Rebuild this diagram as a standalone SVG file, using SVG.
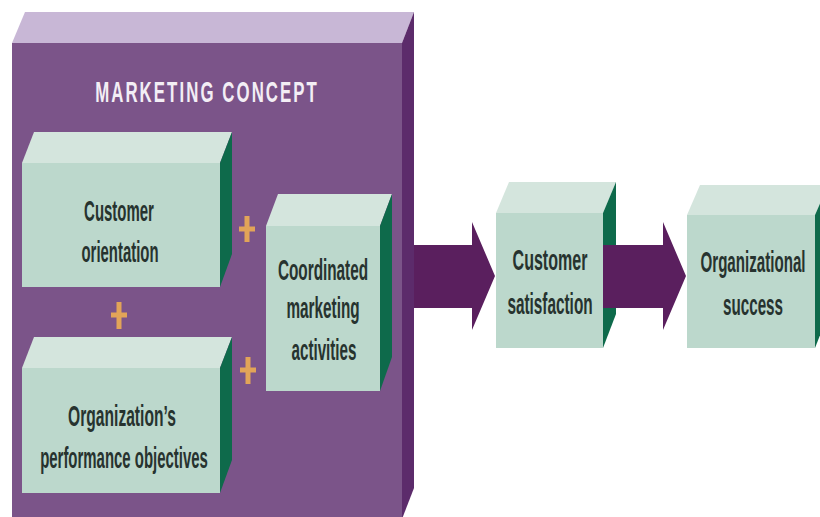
<svg xmlns="http://www.w3.org/2000/svg" width="820" height="517" viewBox="0 0 820 517">
<style>
.top{fill:#d4e5dd}
.front{fill:#bcd8cc}
.side{fill:#0e6a4b}
.lbl{font-family:"Liberation Sans",Arial,sans-serif;font-weight:bold;font-size:29px;fill:#27332f;text-anchor:middle}
.plus{stroke:#e2a458;stroke-width:5;fill:none}
.arrow{fill:#5a1f5e}
</style>
<rect width="820" height="517" fill="#ffffff"/>
<g id="marketing-concept">
<polygon points="12,43 402,43 414,12 25,12" fill="#c8b7d6"/>
<rect x="12" y="43" width="390" height="476" fill="#7b5489"/>
<polygon points="402,43 414,12 414,488 402,519" fill="#5c2b6b"/>
<text transform="translate(206,102) scale(0.56,1)" x="0" y="0" font-family="'Liberation Sans',Arial,sans-serif" font-weight="bold" font-size="30" fill="#f3eef5" text-anchor="middle" textLength="396" lengthAdjust="spacing">MARKETING CONCEPT</text>
</g>
<g id="customer-orientation">
<polygon class="top" points="22,163 220,163 232,132 34,132"/>
<rect class="front" x="22" y="163" width="198" height="124"/>
<polygon class="side" points="220,163 232,132 232,254 220,287"/>
<text class="lbl" transform="translate(119,221) scale(0.55,1)" textLength="127" lengthAdjust="spacingAndGlyphs">Customer</text>
<text class="lbl" transform="translate(120,262) scale(0.55,1)" textLength="140" lengthAdjust="spacingAndGlyphs">orientation</text>
</g>
<g id="org-objectives">
<polygon class="top" points="22,368 220,368 232,337 34,337"/>
<rect class="front" x="22" y="368" width="198" height="125"/>
<polygon class="side" points="220,368 232,337 232,460 220,493"/>
<text class="lbl" transform="translate(122,426) scale(0.55,1)" textLength="196" lengthAdjust="spacingAndGlyphs">Organization’s</text>
<text class="lbl" transform="translate(124,468) scale(0.55,1)" textLength="305" lengthAdjust="spacingAndGlyphs">performance objectives</text>
</g>
<g id="coordinated">
<polygon class="top" points="266,226 380,226 392,194 278,194"/>
<rect class="front" x="266" y="226" width="114" height="165"/>
<polygon class="side" points="380,226 392,194 392,357 380,391"/>
<text class="lbl" transform="translate(323,280) scale(0.55,1)" textLength="164" lengthAdjust="spacingAndGlyphs">Coordinated</text>
<text class="lbl" transform="translate(323,318) scale(0.55,1)" textLength="133" lengthAdjust="spacingAndGlyphs">marketing</text>
<text class="lbl" transform="translate(324,360) scale(0.55,1)" textLength="118" lengthAdjust="spacingAndGlyphs">activities</text>
</g>
<g id="pluses">
<path class="plus" d="M247,216V242M239,229H255"/>
<path class="plus" d="M119,302V329M111,315H127"/>
<path class="plus" d="M248,357V384M240,370H256"/>
</g>
<g id="customer-satisfaction">
<polygon class="top" points="496,213 603,213 616,182 509,182"/>
<rect class="front" x="496" y="213" width="107" height="135"/>
<polygon class="side" points="603,213 616,182 616,314 603,348"/>
<text class="lbl" transform="translate(550,270) scale(0.55,1)" textLength="136" lengthAdjust="spacingAndGlyphs">Customer</text>
<text class="lbl" transform="translate(550,314) scale(0.55,1)" textLength="155" lengthAdjust="spacingAndGlyphs">satisfaction</text>
</g>
<g id="organizational-success">
<polygon class="top" points="687,215 815,215 828,185 700,185"/>
<rect class="front" x="687" y="215" width="128" height="133"/>
<polygon class="side" points="815,215 828,185 828,315 815,348"/>
<text class="lbl" transform="translate(753,272) scale(0.55,1)" textLength="191" lengthAdjust="spacingAndGlyphs">Organizational</text>
<text class="lbl" transform="translate(753,315) scale(0.55,1)" textLength="109" lengthAdjust="spacingAndGlyphs">success</text>
</g>
<g id="connectors">
<polygon class="arrow" points="414,245 472,245 472,222 495,276 472,330 472,308 414,308"/>
<polygon class="arrow" points="603,245 663,245 663,222 686,276 663,330 663,308 603,308"/>
</g>
</svg>
